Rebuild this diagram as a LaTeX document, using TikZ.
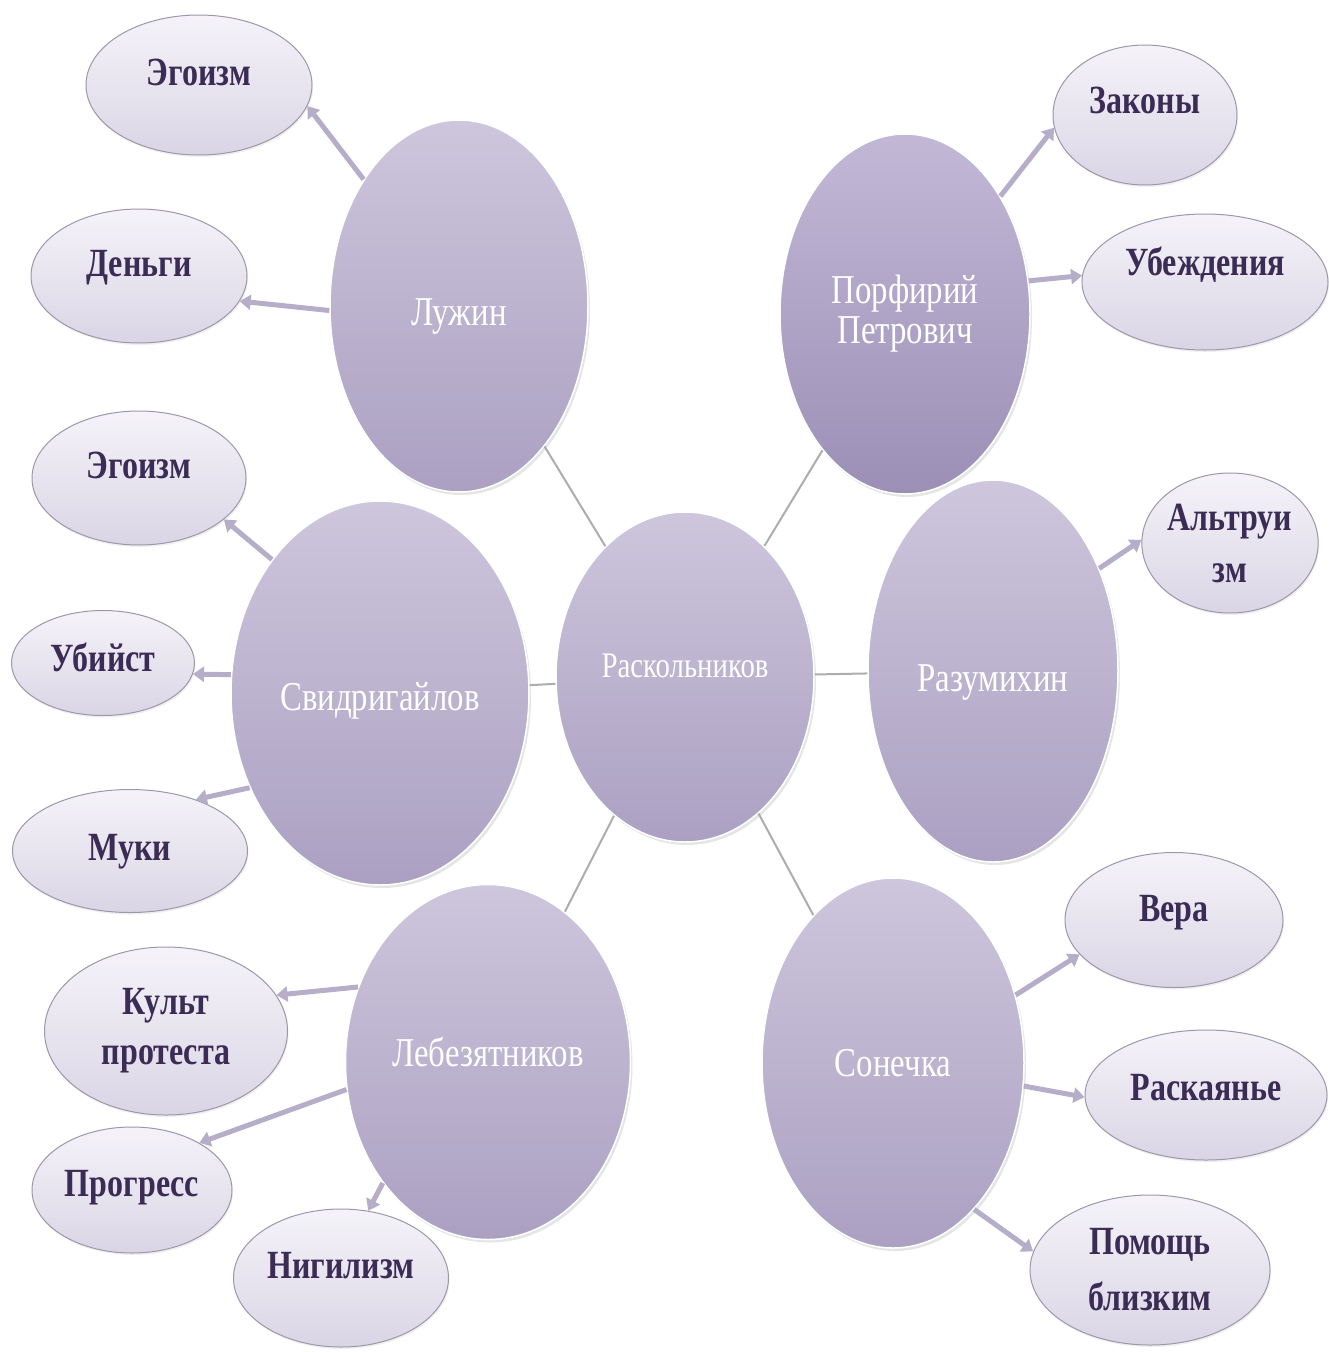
\documentclass[tikz,border=0pt]{standalone}
\usepackage{fontspec}
\setmainfont{Liberation Serif}[FakeStretch=0.8]
\usetikzlibrary{shapes.geometric,arrows.meta,shadows}
\definecolor{bigtop}{HTML}{CDC6DC}
\definecolor{bigbot}{HTML}{ABA0C2}
\definecolor{potop}{HTML}{C2B8D6}
\definecolor{pobot}{HTML}{9C8FB6}
\definecolor{smtop}{HTML}{F5F3F9}
\definecolor{smbot}{HTML}{DAD5E5}
\definecolor{smline}{HTML}{9C98AA}
\definecolor{txtc}{HTML}{3A2C55}
\definecolor{arrc}{HTML}{B6AEC8}
\definecolor{connc}{HTML}{ADADAD}
\begin{document}
\begin{tikzpicture}[x=1pt,y=-1pt,
 big/.style={ellipse, draw=white, line width=1.5pt, top color=bigtop, bottom color=bigbot,
   text=white, font=\fontsize{41}{40}\selectfont, align=center, inner sep=0pt,
   drop shadow={opacity=0.2, shadow xshift=2pt, shadow yshift=-3pt}},
 small/.style={ellipse, draw=smline, line width=1pt, top color=smtop, bottom color=smbot,
   text=txtc, font=\bfseries\fontsize{40}{56}\selectfont, align=center, inner sep=0pt,
   drop shadow={opacity=0.12, shadow xshift=1pt, shadow yshift=-2pt}},
 one/.style={text height=#1, text depth=20pt},
 bt/.style 2 args={text height=#1, text depth=#2},
 conn/.style={draw=connc, line width=2pt},
 arw/.style={draw=arrc, line width=5pt, -{Triangle[width=15pt,length=11pt]}}]
\useasboundingbox (0,0) rectangle (1329,1352);
\fill[white] (0,0) rectangle (1329,1352);

% big nodes
\node[big, bt={40pt}{1pt}, minimum width=258pt, minimum height=372pt] (lu) at (459,306) {Лужин};
\node[big, minimum width=250pt, minimum height=360pt, top color=potop, bottom color=pobot] (po) at (905,314) {Порфирий\\Петрович};
\node[big, bt={36pt}{1pt}, minimum width=298pt, minimum height=384pt] (sv) at (380,693) {Свидригайлов};
\node[big, bt={18pt}{18pt}, font=\fontsize{36}{40}\selectfont, minimum width=258pt, minimum height=330pt] (ra) at (685,677) {Раскольников};
\node[big, bt={42pt}{1pt}, minimum width=250pt, minimum height=382pt] (rz) at (993,671) {Разумихин};
\node[big, bt={20pt}{11pt}, minimum width=285pt, minimum height=355pt] (le) at (488,1062) {Лебезятников};
\node[big, bt={28pt}{1pt}, minimum width=262pt, minimum height=370pt] (so) at (893,1063) {Сонечка};

% small nodes
\node[small, one=21pt, minimum width=226pt, minimum height=140pt] (ego1) at (199,85) {Эгоизм};
\node[small, one=21pt, minimum width=216pt, minimum height=134pt] (den) at (139,276) {Деньги};
\node[small, one=21pt, minimum width=214pt, minimum height=134pt] (ego2) at (139,478) {Эгоизм};
\node[small, one=37pt, minimum width=183pt, minimum height=105pt] (ubi) at (103,663) {Убийст};
\node[small, one=39pt, minimum width=235pt, minimum height=123pt] (muk) at (130,851) {Муки};
\node[small, font=\bfseries\fontsize{40}{50}\selectfont, minimum width=243pt, minimum height=168pt] (kul) at (166,1031) {Культ\\протеста};
\node[small, one=33pt, minimum width=200pt, minimum height=126pt] (prg) at (132,1190) {Прогресс};
\node[small, one=21pt, minimum width=215pt, minimum height=138pt] (nig) at (341,1278) {Нигилизм};
\node[small, one=17pt, minimum width=184pt, minimum height=140pt] (zak) at (1145,115) {Законы};
\node[small, one=7pt, minimum width=246pt, minimum height=136pt] (ube) at (1205,282) {Убеждения};
\node[small, font=\bfseries\fontsize{40}{52}\selectfont, minimum width=174pt, minimum height=140pt] (alt) at (1230,543) {Альтруи\\зм};
\node[small, one=23pt, minimum width=218pt, minimum height=135pt] (ver) at (1174,920) {Вера};
\node[small, one=31pt, minimum width=242pt, minimum height=130pt] (rsk) at (1206,1095) {Раскаянье};
\node[small, minimum width=240pt, minimum height=150pt] (pom) at (1150,1270) {Помощь\\близким};

% thin connectors
\draw[conn] (ra) -- (lu);
\draw[conn] (ra) -- (po);
\draw[conn] (ra) -- (sv);
\draw[conn] (ra) -- (rz);
\draw[conn] (ra) -- (le);
\draw[conn] (ra) -- (so);

% arrows
\draw[arw] (lu.127.7) -- (ego1.-11.7);
\draw[arw] (lu.182) -- (den.-14);
\draw[arw] (po.51.8) -- (zak.188);
\draw[arw] (po.15.5) -- (ube.177);
\draw[arw] (sv.129.4) -- (ego2.-26);
\draw[arw] (sv.173.7) -- (ubi.-7.3);
\draw[arw] (sv.216) -- (muk.38);
\draw[arw] (rz.44) -- (alt.178);
\draw[arw] (le.150.8) -- (kul.18.9);
\draw[arw] (le.191.7) -- (prg.35);
\draw[arw] (le.229.9) -- (nig.68.3);
\draw[arw] (so.29) -- (ver.200);
\draw[arw] (so.-10) -- (rsk.181);
\draw[arw] (so.-61) -- (pom.171);
\end{tikzpicture}
\end{document}
